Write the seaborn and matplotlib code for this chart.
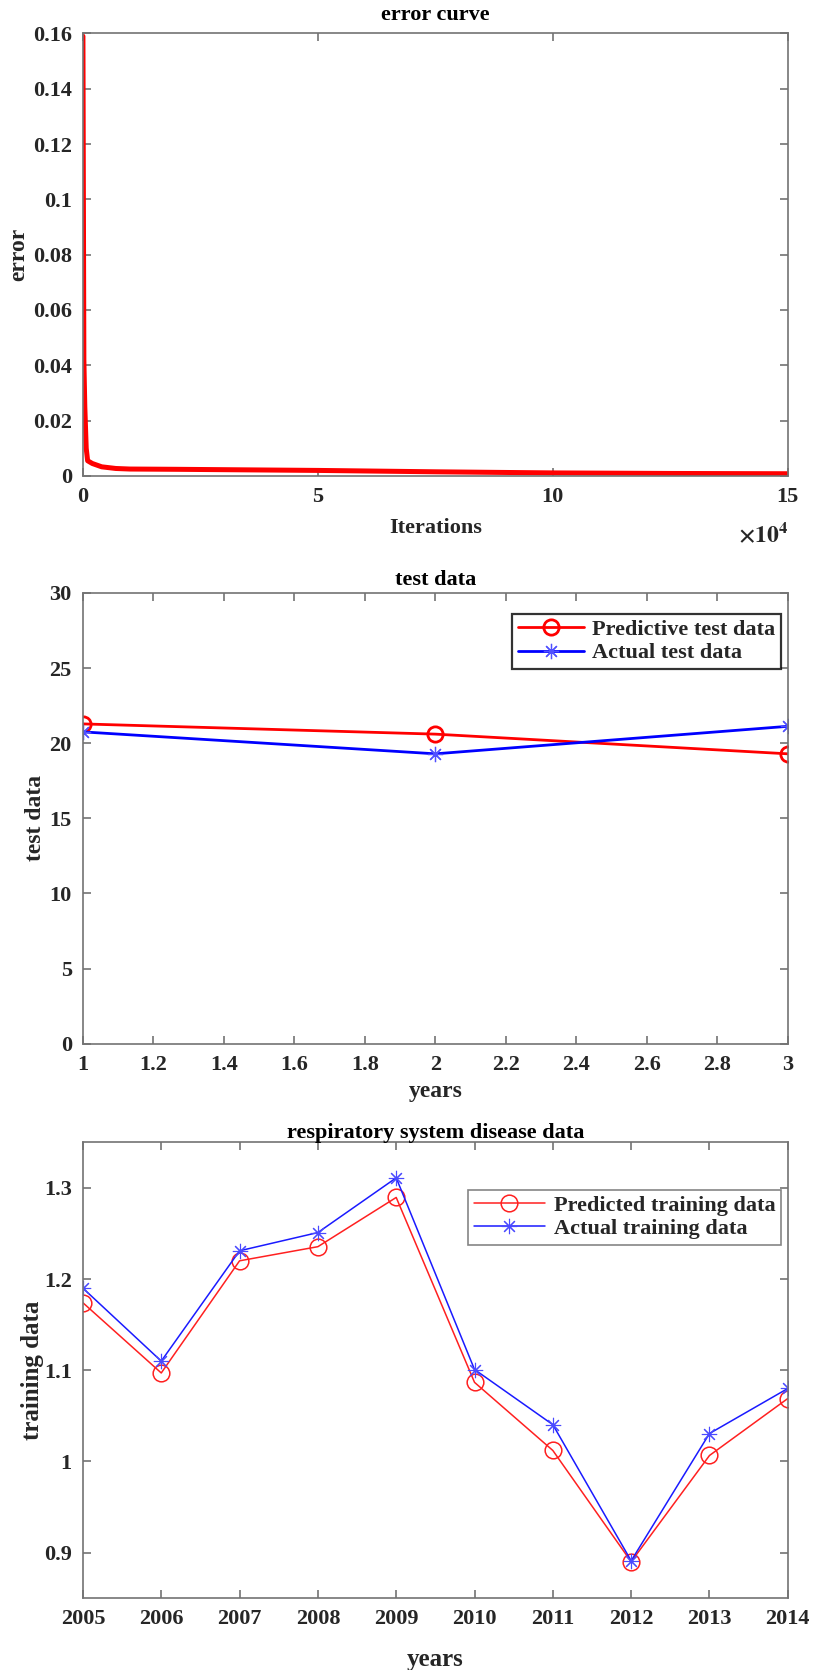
import numpy as np
import pandas as pd
import matplotlib
matplotlib.use("Agg")
import matplotlib.pyplot as plt
import seaborn as sns

# ---------------- data ----------------
iterations = [0, 100, 200, 400, 700, 1000, 2000, 4000, 7000, 10000, 20000,
              35000, 50000, 75000, 100000, 125000, 150000]
error_vals = [0.159, 0.100, 0.042, 0.025, 0.010, 0.0055, 0.0045, 0.0033,
              0.0027, 0.0025, 0.0024, 0.0022, 0.0020, 0.0015, 0.0011,
              0.0009, 0.0008]

test_x = [1, 2, 3]
pred_test = [21.28, 20.60, 19.29]
actual_test = [20.75, 19.29, 21.12]

years = [2005, 2006, 2007, 2008, 2009, 2010, 2011, 2012, 2013, 2014]
pred_train = [1.174, 1.097, 1.220, 1.2355, 1.2895, 1.0867, 1.012, 0.890, 1.0065, 1.069]
actual_train = [1.190, 1.110, 1.231, 1.251, 1.311, 1.1008, 1.0403, 0.891, 1.0306, 1.080]

err_yticks = [0, 0.02, 0.04, 0.06, 0.08, 0.1, 0.12, 0.14, 0.16]
err_xticks = [0, 50000, 100000, 150000]
err_xticklabels = ["0", "5", "10", "15"]
test_xticks = [1, 1.2, 1.4, 1.6, 1.8, 2, 2.2, 2.4, 2.6, 2.8, 3]
test_yticks = [0, 5, 10, 15, 20, 25, 30]
train_yticks = [0.9, 1.0, 1.1, 1.2, 1.3]

# ---------------- style ----------------
sns.set_theme(style="white")
plt.rcParams['font.family'] = ['Liberation Serif', 'DejaVu Serif']
plt.rcParams['font.weight'] = 'bold'
plt.rcParams['mathtext.fontset'] = 'stix'
FS = 16
TXT = '#262626'
SPINE = '0.45'

fig = plt.figure(figsize=(8.13, 16.7), dpi=100)
ax1 = fig.add_axes([0.102, 0.715, 0.867, 0.265])
ax2 = fig.add_axes([0.102, 0.375, 0.867, 0.270])
ax3 = fig.add_axes([0.102, 0.043, 0.867, 0.273])


def style_axes(ax):
    for s in ax.spines.values():
        s.set_color(SPINE)
        s.set_linewidth(1.2)
        s.set_visible(True)
    ax.tick_params(direction='in', length=6, width=1.2, color=SPINE,
                   top=True, right=True, bottom=True, left=True,
                   labelsize=FS, labelcolor=TXT, pad=8)
    for lab in ax.get_xticklabels() + ax.get_yticklabels():
        lab.set_fontweight('bold')


# ---------------- panel 1: error curve ----------------
df1 = pd.DataFrame({"Iterations": iterations, "error": error_vals})
sns.lineplot(data=df1, x="Iterations", y="error", ax=ax1, color='#ff0000',
             linewidth=3.6, sort=True)
ax1.set_xlim(0, 150000)
ax1.set_ylim(0, 0.16)
ax1.set_yticks(err_yticks)
ax1.set_yticklabels([f"{v:g}" for v in err_yticks])
ax1.set_xticks(err_xticks)
ax1.set_xticklabels(err_xticklabels)
ax1.set_title("error curve", fontsize=FS, fontweight='bold', color='black', pad=10)
ax1.set_xlabel("Iterations", fontsize=FS, fontweight='bold', color=TXT)
ax1.set_ylabel("error", fontsize=FS + 1, fontweight='bold', color=TXT)
ax1.yaxis.set_label_coords(-0.076, 0.5)
ax1.xaxis.set_label_coords(0.5, -0.095)
style_axes(ax1)
ax1.text(0.965, -0.133, r'$\times\mathbf{10^4}$', transform=ax1.transAxes,
         fontsize=FS + 1, ha='center', va='center', color=TXT)

# ---------------- panel 2: test data ----------------
sns.lineplot(x=test_x, y=pred_test, ax=ax2, color='#ff0000', linewidth=2.0,
             marker='o', markersize=11, markerfacecolor='none',
             markeredgecolor='#ff0000', markeredgewidth=2.0,
             label="Predictive test data")
sns.lineplot(x=test_x, y=actual_test, ax=ax2, color='#0000ff', linewidth=2.0,
             marker=(8, 2, 0), markersize=11, markeredgecolor='#5050ff',
             markeredgewidth=0.9, label="Actual test data")
ax2.set_xlim(1, 3)
ax2.set_ylim(0, 30)
ax2.set_xticks(test_xticks)
ax2.set_xticklabels([f"{v:g}" for v in test_xticks])
ax2.set_yticks(test_yticks)
ax2.set_yticklabels([f"{v:g}" for v in test_yticks])
ax2.set_title("test data", fontsize=FS, fontweight='bold', color='black', pad=6)
ax2.set_xlabel("years", fontsize=FS + 1, fontweight='bold', color=TXT)
ax2.set_ylabel("test data", fontsize=FS + 1, fontweight='bold', color=TXT)
ax2.yaxis.set_label_coords(-0.052, 0.5)
ax2.xaxis.set_label_coords(0.5, -0.082)
style_axes(ax2)
leg2 = ax2.legend(loc='upper right', bbox_to_anchor=(0.990, 0.953),
                  prop={'size': FS, 'weight': 'bold'}, frameon=True,
                  fancybox=False, edgecolor='black', handlelength=3.0,
                  borderpad=0.25, labelspacing=0.12, handletextpad=0.35,
                  borderaxespad=0)
leg2.get_frame().set_linewidth(1.6)

# ---------------- panel 3: training data ----------------
sns.lineplot(x=years, y=pred_train, ax=ax3, color='#ff2020', linewidth=1.1,
             marker='o', markersize=12, markerfacecolor='none',
             markeredgecolor='#ff2020', markeredgewidth=1.1,
             label="Predicted training data")
sns.lineplot(x=years, y=actual_train, ax=ax3, color='#1a1aff', linewidth=1.1,
             marker=(8, 2, 0), markersize=11, markeredgecolor='#4a4aff',
             markeredgewidth=0.8, label="Actual training data")
ax3.set_xlim(2005, 2014)
ax3.set_ylim(0.85, 1.35)
ax3.set_xticks(years)
ax3.set_xticklabels([str(y) for y in years])
ax3.set_yticks(train_yticks)
ax3.set_yticklabels([f"{v:g}" for v in train_yticks])
ax3.set_title("respiratory system disease data", fontsize=FS, fontweight='bold',
              color='black', pad=3)
ax3.set_xlabel("years", fontsize=FS + 2, fontweight='bold', color=TXT)
ax3.set_ylabel("training data", fontsize=FS + 2, fontweight='bold', color=TXT)
ax3.yaxis.set_label_coords(-0.055, 0.5)
ax3.xaxis.set_label_coords(0.5, -0.110)
style_axes(ax3)
leg3 = ax3.legend(loc='upper right', bbox_to_anchor=(0.990, 0.895),
                  prop={'size': FS, 'weight': 'bold'}, frameon=True,
                  fancybox=False, edgecolor='0.4', handlelength=3.2,
                  borderpad=0.25, labelspacing=0.1, handletextpad=0.4,
                  borderaxespad=0)
leg3.get_frame().set_linewidth(1.2)

fig.savefig("out.png", dpi=100, facecolor='white')
